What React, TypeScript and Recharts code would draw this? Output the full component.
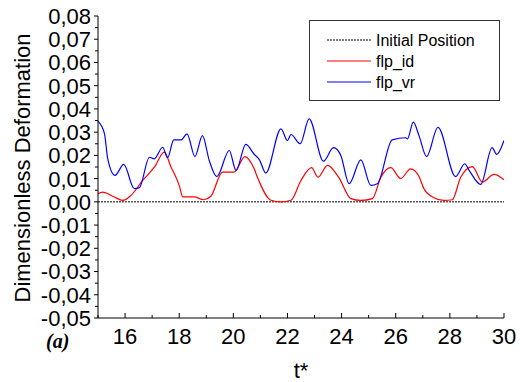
import React from 'react';
import { LineChart, Line, XAxis, YAxis, Legend } from 'recharts';

const blueT = [15.0, 15.24, 15.36, 15.63, 15.95, 16.34, 16.53, 16.9, 17.08, 17.39, 17.57, 17.8, 18.07, 18.29, 18.58, 18.86, 19.11, 19.39, 19.85, 20.1, 20.46, 20.77, 20.96, 21.2, 21.76, 22.0, 22.13, 22.47, 22.8, 23.33, 23.7, 23.97, 24.28, 24.71, 25.08, 25.32, 25.87, 26.37, 26.43, 26.65, 26.86, 27.14, 27.56, 28.21, 28.55, 28.7, 29.14, 29.56, 29.73, 30.0];
const blueV = [0.0347, 0.0293, 0.0185, 0.0114, 0.0161, 0.0057, 0.0061, 0.0192, 0.0185, 0.0235, 0.019, 0.0267, 0.0267, 0.0293, 0.0195, 0.0285, 0.0178, 0.0109, 0.0221, 0.0135, 0.0247, 0.0205, 0.0182, 0.0124, 0.0314, 0.0264, 0.029, 0.025, 0.0357, 0.0175, 0.0233, 0.02, 0.0078, 0.0181, 0.0071, 0.0078, 0.0267, 0.0276, 0.0271, 0.0343, 0.0285, 0.0195, 0.0321, 0.0109, 0.0164, 0.0138, 0.0075, 0.0233, 0.0204, 0.0264];

const redT = [15.0, 15.17, 15.6, 15.91, 16.22, 16.65, 17.08, 17.45, 17.7, 17.82, 18.0, 18.13, 18.56, 18.9, 19.17, 19.6, 20.03, 20.43, 20.77, 20.89, 21.39, 21.76, 22.13, 22.5, 22.89, 23.13, 23.48, 23.9, 24.34, 24.71, 25.14, 25.45, 25.82, 26.18, 26.55, 26.86, 27.04, 27.41, 27.78, 28.09, 28.4, 28.83, 29.2, 29.63, 30.0];
const redV = [0.0035, 0.0042, 0.0021, 0.0006, 0.0028, 0.0092, 0.0149, 0.0214, 0.0149, 0.0121, 0.0071, 0.0021, 0.0021, 0.0009, 0.0024, 0.0128, 0.0128, 0.0195, 0.0142, 0.0106, 0.0007, 0.0, 0.0007, 0.0092, 0.0147, 0.0106, 0.0157, 0.0104, 0.0014, 0.0006, 0.0014, 0.0106, 0.0147, 0.01, 0.0142, 0.0109, 0.0057, 0.0018, 0.0006, 0.0009, 0.0106, 0.0152, 0.0085, 0.0118, 0.0095];

const initT = [15, 30];
const initV = [0, 0];

const xTicks = [15, 16, 17, 18, 19, 20, 21, 22, 23, 24, 25, 26, 27, 28, 29, 30];
const yTicks = [-0.05, -0.045, -0.04, -0.035, -0.03, -0.025, -0.02, -0.015, -0.01, -0.005, 0, 0.005, 0.01, 0.015, 0.02, 0.025, 0.03, 0.035, 0.04, 0.045, 0.05, 0.055, 0.06, 0.065, 0.07, 0.075, 0.08];

const seriesNames = ['Initial Position', 'flp_id', 'flp_vr'];

const toRows = (ts: number[], vs: number[]) => ts.map((t, i) => ({ t, v: vs[i] }));
const initData = toRows(initT, initV);
const redData = toRows(redT, redV);
const blueData = toRows(blueT, blueV);

const FONT = '"Liberation Sans", Arial, sans-serif';

const isMajorY = (v: number) => Math.abs(Math.round(v * 100) - v * 100) < 1e-6;
const fmtY = (v: number) => {
  const r = Math.round(v * 100) / 100;
  const s = Math.abs(r).toFixed(2).replace('.', ',');
  return r < 0 ? '-' + s : s;
};

const LeftTick = (props: any) => {
  const { x, y, payload } = props;
  const axisX = x + 6;
  const major = isMajorY(payload.value);
  return (
    <g>
      <line x1={axisX - (major ? 4 : 3)} x2={axisX} y1={y} y2={y} stroke="#000" strokeWidth={1} />
      {major && (
        <text x={x - 1} y={y} dy="0.36em" textAnchor="end" fontSize={22} fontFamily={FONT} fill="#000">
          {fmtY(payload.value)}
        </text>
      )}
    </g>
  );
};

const RightTick = (props: any) => {
  const { x, y, payload } = props;
  const major = isMajorY(payload.value);
  return <line x1={x - (major ? 4 : 3)} x2={x} y1={y} y2={y} stroke="#000" strokeWidth={1} />;
};

const BottomTick = (props: any) => {
  const { x, y, payload } = props;
  const axisY = y - 10;
  const major = payload.value % 2 === 0;
  return (
    <g>
      <line x1={x} x2={x} y1={axisY} y2={axisY - (major ? 5 : 3)} stroke="#000" strokeWidth={1} />
      {major && (
        <text x={x} y={y} dy="0.71em" textAnchor="middle" fontSize={22} fontFamily={FONT} fill="#000">
          {payload.value}
        </text>
      )}
    </g>
  );
};

const TopTick = (props: any) => {
  const { x, y } = props;
  return <line x1={x} x2={x} y1={y} y2={y + 4} stroke="#000" strokeWidth={1} />;
};

const LegendBox = (props: any) => {
  const payload = props.payload || [];
  return (
    <svg width={191} height={81} style={{ display: 'block' }}>
      <rect x={0.5} y={0.5} width={190} height={80} fill="#fff" stroke="#333" strokeWidth={1} />
      {payload.map((p: any, i: number) => {
        const cy = 20 + i * 21;
        const dash = p.payload && p.payload.strokeDasharray;
        return (
          <g key={i}>
            <line x1={18} x2={62} y1={cy} y2={cy} stroke={p.color} strokeWidth={1} strokeDasharray={dash} />
            <text x={67} y={cy} dy="0.36em" fontSize={16} fontFamily={FONT} fill="#000">
              {p.value}
            </text>
          </g>
        );
      })}
    </svg>
  );
};

const YLabel = () => (
  <text
    x={22}
    y={168}
    transform="rotate(-90 22 168)"
    textAnchor="middle"
    dominantBaseline="central"
    fontSize={22}
    fontFamily={FONT}
    fill="#000"
  >
    Dimensionless Deformation
  </text>
);

export default function App() {
  return (
    <div style={{ position: 'absolute', left: 0, top: 0, width: 520, height: 382, background: '#fff' }}>
      <LineChart width={520} height={382} margin={{ top: 16, right: 16, bottom: 0, left: 0 }}>
        <XAxis
          xAxisId="b"
          dataKey="t"
          type="number"
          domain={[15, 30]}
          ticks={xTicks}
          interval={0}
          height={64}
          tickSize={4}
          tickMargin={6}
          tickLine={false}
          tick={<BottomTick />}
          axisLine={{ stroke: '#000' }}
          allowDataOverflow
          label={{ value: 't*', position: 'insideBottom', offset: 4, fontSize: 22, fontFamily: FONT, fill: '#000' }}
        />
        <XAxis
          xAxisId="top"
          orientation="top"
          dataKey="t"
          type="number"
          domain={[15, 30]}
          ticks={xTicks}
          interval={0}
          height={0}
          tickSize={0}
          tickMargin={0}
          tickLine={false}
          tick={<TopTick />}
          axisLine={{ stroke: '#000' }}
          allowDataOverflow
        />
        <YAxis
          yAxisId="l"
          type="number"
          domain={[-0.05, 0.08]}
          ticks={yTicks}
          interval={0}
          width={98}
          tickSize={4}
          tickMargin={2}
          tickLine={false}
          tick={<LeftTick />}
          axisLine={{ stroke: '#000' }}
          allowDataOverflow
          label={<YLabel />}
        />
        <YAxis
          yAxisId="r"
          orientation="right"
          type="number"
          domain={[-0.05, 0.08]}
          ticks={yTicks}
          interval={0}
          width={0}
          tickSize={0}
          tickMargin={0}
          tickLine={false}
          tick={<RightTick />}
          axisLine={{ stroke: '#000' }}
          allowDataOverflow
        />
        <Legend
          layout="vertical"
          align="center"
          verticalAlign="middle"
          wrapperStyle={{ left: 309, top: 20, width: 191, height: 81 }}
          content={<LegendBox />}
        />
        <Line
          xAxisId="b"
          yAxisId="l"
          data={initData}
          dataKey="v"
          name={seriesNames[0]}
          stroke="#000"
          strokeWidth={1}
          strokeDasharray="2 1"
          dot={false}
          isAnimationActive={false}
          type="linear"
        />
        <Line
          xAxisId="b"
          yAxisId="l"
          data={redData}
          dataKey="v"
          name={seriesNames[1]}
          stroke="#ff0000"
          strokeWidth={1.2}
          dot={false}
          isAnimationActive={false}
          type="monotone"
        />
        <Line
          xAxisId="b"
          yAxisId="l"
          data={blueData}
          dataKey="v"
          name={seriesNames[2]}
          stroke="#0000ff"
          strokeWidth={1.2}
          dot={false}
          isAnimationActive={false}
          type="monotone"
        />
      </LineChart>
      <div
        style={{
          position: 'absolute',
          left: 46,
          top: 330,
          fontFamily: '"Liberation Serif", "Times New Roman", serif',
          fontWeight: 'bold',
          fontStyle: 'italic',
          fontSize: 20,
          lineHeight: '22px',
        }}
      >
        (a)
      </div>
    </div>
  );
}
